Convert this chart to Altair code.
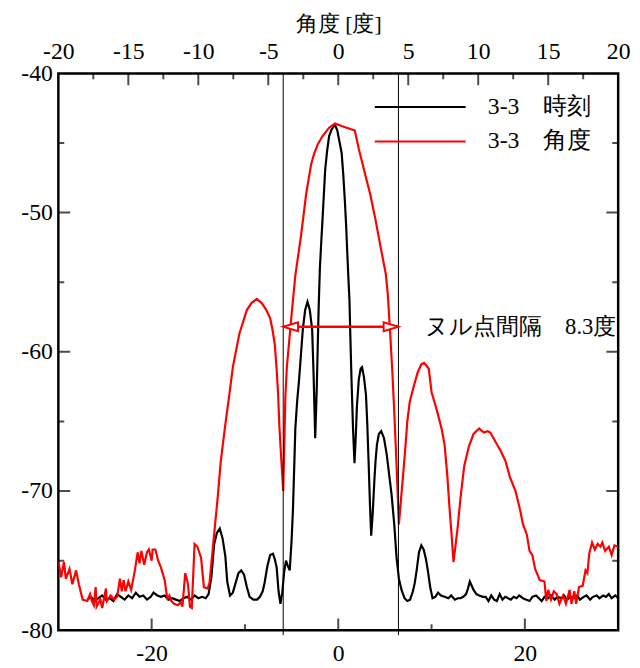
import altair as alt
import pandas as pd

# ---- data ----
time_x = [-26.9, -26.5, -26.1, -25.7, -25.3, -24.9, -24.5, -24.1, -23.7, -23.3, -22.9, -22.5, -22.1, -21.7,
          -21.3, -20.9, -20.5, -20.1, -19.8, -19.4, -19.0, -18.6, -18.2, -17.8, -17.4, -17.0, -16.6, -16.2,
          -15.8, -15.4, -15.0, -14.6, -14.2, -13.9, -13.6, -13.3, -13.0, -12.7, -12.4, -12.1, -11.9, -11.6,
          -11.3, -11.0, -10.7, -10.4, -10.1, -9.8, -9.5, -9.1, -8.7, -8.4, -8.1, -7.9, -7.6, -7.3, -7.0,
          -6.8, -6.6, -6.4, -6.2, -6.0, -5.8, -5.6, -5.4, -5.2, -5.0, -4.86, -4.7, -4.6, -4.4, -4.2, -4.0,
          -3.8, -3.55, -3.3, -3.05, -2.8, -2.65, -2.47, -2.3, -2.2, -2.1, -1.97, -1.83, -1.68, -1.4, -1.2,
          -0.98, -0.7, -0.35, -0.1, 0.1, 0.36, 0.55, 0.71, 0.85, 0.96, 1.08, 1.2, 1.3, 1.42, 1.58, 1.74,
          1.88, 2.0, 2.2, 2.4, 2.55, 2.75, 2.97, 3.1, 3.25, 3.4, 3.53, 3.7, 3.88, 4.0, 4.14, 4.35, 4.6,
          4.9, 5.2, 5.45, 5.72, 6.0, 6.25, 6.5, 6.78, 7.1, 7.4, 7.7, 8.0, 8.2, 8.4, 8.65, 8.9, 9.15, 9.4,
          9.6, 9.85, 10.1, 10.4, 10.7, 11.0, 11.4, 11.8, 12.1, 12.5, 12.8, 13.1, 13.4, 13.7, 13.9, 14.1,
          14.3, 14.5, 14.8, 15.1, 15.5, 15.8, 16.1, 16.4, 16.7, 17.0, 17.3, 17.6, 17.9, 18.2, 18.5, 18.8,
          19.1, 19.4, 19.8, 20.1, 20.5, 20.8, 21.2, 21.5, 21.8, 22.1, 22.5, 22.8, 23.2, 23.5, 23.9, 24.2,
          24.5, 24.9, 25.2, 25.6, 25.9, 26.3, 26.6, 27.0, 27.3, 27.7, 28.0, 28.4, 28.7, 29.0, 29.3, 29.7, 30.0]
time_y = [-77.8, -77.6, -77.9, -77.7, -77.5, -77.8, -77.7, -77.9, -77.4, -77.6, -77.8, -77.5, -77.7, -77.3,
          -77.6, -77.5, -77.8, -77.6, -77.3, -77.5, -77.6, -77.5, -77.8, -77.7, -77.8, -77.9, -77.7, -77.6,
          -77.8, -77.5, -77.7, -77.6, -77.7, -77.4, -76.2, -73.8, -73.0, -72.7, -73.4, -74.7, -76.5, -77.5,
          -77.3, -76.6, -75.9, -75.7, -76.0, -76.9, -77.6, -77.8, -77.8, -77.6, -77.2, -76.6, -75.4, -74.6, -74.5,
          -74.9, -75.5, -77.2, -78.1, -77.3, -75.8, -75.0, -75.4, -75.7, -73.5, -71.4, -67.8, -65.5, -63.5, -62.0, -60.2,
          -58.4, -57.0, -56.4, -57.0, -58.4, -61.5, -66.2, -62.5, -59.6, -56.8, -54.0, -52.2, -50.4, -46.9, -45.6,
          -44.5, -44.0, -43.7, -44.1, -44.8, -45.7, -47.4, -49.2, -51.0, -52.8, -54.6, -56.3, -59.0, -62.0, -65.5, -68.0,
          -66.0, -63.9, -62.0, -61.2, -61.1, -61.8, -63.1, -65.0, -67.9, -71.0, -73.2, -71.5, -69.1, -67.8, -66.7, -65.9, -65.7,
          -66.2, -67.4, -68.8, -70.3, -72.4, -74.8, -76.3, -77.1, -77.7, -77.9, -77.8, -77.2, -76.6, -75.7, -74.4, -73.9, -74.2, -74.9,
          -75.7, -76.9, -77.7, -77.6, -77.3, -77.5, -77.6, -77.7, -77.5, -77.8, -77.7, -77.7, -77.6, -77.4, -77.0, -76.5,
          -76.8, -77.1, -77.4, -77.5, -77.6, -77.6, -77.9, -77.5, -77.8, -77.9, -77.4, -77.8, -77.6, -77.7, -77.8, -77.6,
          -77.7, -77.5, -77.7, -77.8, -77.9, -77.6, -77.5, -77.7, -77.9, -77.6, -77.7, -77.5, -77.8, -77.6, -77.7, -77.5,
          -77.8, -77.6, -77.7, -77.5, -77.8, -77.6, -77.5, -77.8, -77.6, -77.5, -77.7, -77.5, -77.6, -77.4, -77.7, -77.5, -77.7]

angle_x = [-30.0, -29.7, -29.4, -29.2, -28.8, -28.5, -28.1, -27.8, -27.4, -26.9, -26.6, -26.4, -26.2, -26.0,
           -25.9, -25.5, -25.3, -24.9, -24.8, -24.4, -24.0, -23.7, -23.4, -23.2, -23.0, -22.8, -22.5, -22.2,
           -21.8, -21.5, -21.3, -21.1, -20.8, -20.5, -20.3, -20.0, -19.9, -19.6, -19.3, -19.0, -18.6, -18.4,
           -18.3, -18.1, -17.9, -17.6, -17.2, -16.9, -16.7, -16.4, -16.1, -15.9, -15.7, -15.4, -15.1, -14.7,
           -14.4, -14.0, -13.8, -13.5, -13.3, -12.9, -12.6, -12.1, -11.6, -11.3, -10.6, -9.8, -9.3, -8.74,
           -8.2, -7.7, -7.3, -7.05, -6.8, -6.6, -6.45, -6.3, -6.1, -5.9, -5.78, -5.67, -5.5, -5.28, -5.0,
           -4.6, -3.98, -3.45, -2.9, -2.6, -2.2, -1.68, -0.98, -0.35, 0.43, 0.9, 1.31, 1.77, 2.19, 2.9, 3.43,
           3.96, 4.49, 5.09, 5.3, 5.55, 5.8, 6.0, 6.25, 6.5, 6.8, 7.13, 7.4, 7.66, 8.0, 8.5, 8.9, 9.2, 9.7,
           10.0, 10.4, 10.8, 11.1, 11.4, 11.7, 11.9, 12.15, 12.35, 12.55, 12.8, 13.1, 13.5, 14.0, 14.5, 15.1,
           15.6, 16.0, 16.3, 16.8, 17.4, 17.9, 18.4, 19.0, 19.5, 19.8, 20.2, 20.5, 20.8, 21.1, 21.6, 22.1,
           22.3, 22.5, 22.8, 23.1, 23.4, 23.7, 24.1, 24.4, 24.8, 25.0, 25.3, 25.5, 25.8, 26.2, 26.5, 26.7,
           26.9, 27.2, 27.5, 27.8, 28.1, 28.3, 28.6, 29.0, 29.3, 29.6, 30.0]
angle_y = [-75.0, -76.2, -75.1, -76.3, -75.6, -76.7, -75.7, -76.7, -77.8, -77.9, -77.4, -77.9, -78.2, -76.9,
           -78.3, -77.8, -78.4, -77.0, -77.9, -77.5, -77.8, -77.6, -76.3, -77.2, -76.4, -77.2, -76.5, -77.1,
           -75.7, -74.4, -75.2, -74.3, -75.3, -74.4, -74.2, -75.0, -74.2, -74.2, -75.0, -75.5, -76.4, -77.4,
           -77.7, -77.5, -77.9, -78.1, -78.2, -78.0, -78.3, -75.9, -76.7, -78.3, -78.4, -73.8, -74.0, -74.8,
           -76.9, -77.0, -76.6, -74.5, -73.1, -70.3, -67.9, -65.2, -62.7, -61.1, -58.7, -57.0, -56.5, -56.2,
           -56.5, -57.0, -57.6, -58.4, -59.5, -61.3, -63.0, -65.5, -67.8, -70.0, -66.5, -63.2, -61.0, -59.4, -57.3,
           -54.5, -51.6, -48.7, -46.5, -45.8, -45.1, -44.5, -43.9, -43.6, -43.8, -43.9, -44.0, -44.1, -45.4, -47.3, -48.7,
           -50.4, -52.3, -54.4, -55.8, -58.5, -61.5, -64.3, -68.2, -72.4, -70.0, -67.4, -65.0, -63.6, -62.7, -61.5, -60.9, -60.8, -61.2,
           -62.9, -63.8, -64.8, -65.6, -66.7, -69.0, -71.0, -73.2, -75.1, -74.0, -72.6, -70.5, -68.2, -66.8, -65.9, -65.5,
           -65.8, -65.7, -65.8, -66.4, -67.1, -67.8, -69.0, -70.0, -71.4, -72.4, -73.1, -74.3, -74.6, -75.6, -76.4, -76.5,
           -77.9, -77.1, -77.8, -77.2, -77.4, -78.1, -77.5, -78.1, -77.1, -78.1, -77.2, -78.1, -76.9, -76.8, -75.7, -75.9,
           -74.5, -73.7, -74.2, -73.8, -74.0, -73.7, -74.3, -74.0, -74.6, -73.9, -74.0]

series_names = ["3-3\u3000時刻", "3-3\u3000角度"]
series_colors = ["#000000", "#ff0000"]

null_left = -5.9
null_right = 6.45
arrow_level = -58.2
note_text = "ヌル点間隔\u30008.3度"
note_x = 9.3

bottom_labels = [-20, 0, 20]
bottom_major = [-20, 0, 20]
bottom_minor = [-10, 10]
left_labels = [-80, -70, -60, -50, -40]
side_major = [-70, -60, -50]
side_minor = [-75, -65, -55, -45]
top_label_deg = [-20, -15, -10, -5, 0, 5, 10, 15, 20]
top_major_deg = [-15, -10, -5, 0, 5, 10, 15]
top_minor_deg = [-17.5, -12.5, -7.5, -2.5, 2.5, 7.5, 12.5, 17.5]
units_per_degree = 1.5

SERIF = "Liberation Serif"
FS = 24
XDOM = [-30, 30]
YDOM = [-80, -40]
HYPHEN_LABEL = "(datum.value < 0 ? '-' : '') + format(abs(datum.value), 'd')"

xs = alt.Scale(domain=XDOM, nice=False, zero=False)
ys = alt.Scale(domain=YDOM, nice=False, zero=False)

df = pd.concat([
    pd.DataFrame({"x": time_x, "y": time_y, "series": series_names[0]}),
    pd.DataFrame({"x": angle_x, "y": angle_y, "series": series_names[1]}),
])

lines = alt.Chart(df).mark_line(strokeWidth=2.2, clip=True).encode(
    x=alt.X("x:Q", scale=xs, axis=alt.Axis(orient="bottom", values=bottom_labels, ticks=False, domain=False,
            grid=False, labelFont=SERIF, labelFontSize=FS, labelPadding=12, labelFlush=False,
            labelOverlap=False, labelColor="black", title=None, labelExpr=HYPHEN_LABEL)),
    y=alt.Y("y:Q", scale=ys, axis=alt.Axis(orient="left", values=left_labels, ticks=False, domain=False,
            grid=False, labelFont=SERIF, labelFontSize=FS, labelPadding=6, labelFlush=False,
            labelOverlap=False, labelColor="black", title=None, labelExpr=HYPHEN_LABEL)),
    color=alt.Color("series:N", scale=alt.Scale(domain=series_names, range=series_colors),
                    legend=alt.Legend(title=None, orient="none", legendX=319, legendY=23,
                                      symbolType="stroke", symbolSize=8464, symbolStrokeWidth=2.2,
                                      labelFont=SERIF, labelFontSize=FS, labelOffset=21,
                                      labelColor="black", labelLimit=0, clipHeight=22,
                                      rowPadding=11, padding=0)),
    order=alt.Order("x:Q"),
)

vdf = pd.DataFrame({"x": [null_left, null_right]})
vlines = alt.Chart(vdf).mark_rule(color="black", strokeWidth=1, y2Offset=5, clip=False).encode(
    x=alt.X("x:Q", scale=xs, axis=alt.Axis(orient="top", values=[d * units_per_degree for d in top_label_deg],
            labelExpr="(datum.value < 0 ? '-' : '') + format(abs(datum.value) / 1.5, '.0f')",
            ticks=False, domain=False, grid=False,
            labelFont=SERIF, labelFontSize=FS, labelPadding=10, labelFlush=False, labelOverlap=False,
            labelColor="black", title="角度 [度]", titleFont=SERIF, titleFontSize=22,
            titleFontWeight="normal", titleColor="black", titlePadding=4)),
    y=alt.Y(datum=YDOM[1], scale=ys, axis=None),
    y2=alt.Y2(datum=YDOM[0]),
)

adf = pd.DataFrame({"x1": [null_left], "x2": [null_right], "y": [arrow_level]})
arrow = alt.Chart(adf).mark_rule(color="#ff0000", strokeWidth=2.5).encode(
    x=alt.X("x1:Q", scale=xs, axis=None), x2="x2:Q", y=alt.Y("y:Q", scale=ys, axis=None))

hl = pd.DataFrame({"x": [null_left], "y": [arrow_level]})
hr = pd.DataFrame({"x": [null_right], "y": [arrow_level]})
head_l = alt.Chart(hl).mark_point(shape="M -1 0 L 1 -0.6 L 1 0.6 Z", size=225, filled=False,
                                  stroke="#ff0000", strokeWidth=2, fill="white", fillOpacity=1,
                                  xOffset=7.5, opacity=1).encode(
    x=alt.X("x:Q", scale=xs, axis=None), y=alt.Y("y:Q", scale=ys, axis=None))
head_r = alt.Chart(hr).mark_point(shape="M 1 0 L -1 -0.6 L -1 0.6 Z", size=225, filled=False,
                                  stroke="#ff0000", strokeWidth=2, fill="white", fillOpacity=1,
                                  xOffset=-7.5, opacity=1).encode(
    x=alt.X("x:Q", scale=xs, axis=None), y=alt.Y("y:Q", scale=ys, axis=None))

tdf = pd.DataFrame({"x": [note_x], "y": [arrow_level], "t": [note_text]})
note = alt.Chart(tdf).mark_text(align="left", baseline="middle", font=SERIF, fontSize=23,
                                color="black").encode(
    x=alt.X("x:Q", scale=xs, axis=None), y=alt.Y("y:Q", scale=ys, axis=None), text="t:N")

# inward ticks (clipped to the frame)
def xticks(vals, size, ypos):
    d = pd.DataFrame({"v": vals, "len": [size] * len(vals)})
    return alt.Chart(d).mark_tick(orient="vertical", thickness=2, color="black", clip=True).encode(
        x=alt.X("v:Q", scale=xs, axis=None), y=alt.Y(datum=ypos, scale=ys, axis=None),
        size=alt.Size("len:Q", scale=None, legend=None))

def yticks(vals, size, xpos):
    d = pd.DataFrame({"v": vals, "len": [size] * len(vals)})
    return alt.Chart(d).mark_tick(orient="horizontal", thickness=2, color="black", clip=True).encode(
        y=alt.Y("v:Q", scale=ys, axis=None), x=alt.X(datum=xpos, scale=xs, axis=None),
        size=alt.Size("len:Q", scale=None, legend=None))

def topticks(vals, size):
    d = pd.DataFrame({"deg": vals, "len": [size] * len(vals)})
    return alt.Chart(d).transform_calculate(v=f"datum.deg * {units_per_degree}").mark_tick(
        orient="vertical", thickness=2, color="black", clip=True).encode(
        x=alt.X("v:Q", scale=xs, axis=None), y=alt.Y(datum=YDOM[1], scale=ys, axis=None),
        size=alt.Size("len:Q", scale=None, legend=None))

ticks = [
    xticks(bottom_major, 24, YDOM[0]), xticks(bottom_minor, 12, YDOM[0]),
    topticks(top_major_deg, 24), topticks(top_minor_deg, 12),
    yticks(side_major, 24, XDOM[0]), yticks(side_minor, 12, XDOM[0]),
    yticks(side_major, 24, XDOM[1]), yticks(side_minor, 12, XDOM[1]),
]

chart = alt.layer(lines, vlines, arrow, head_l, head_r, note, *ticks).resolve_axis(
    x="independent", y="independent").properties(
    width=567, height=564,
    autosize=alt.AutoSizeParams(type="none"),
    padding={"left": 51, "top": 62, "right": 14, "bottom": 34},
).configure_view(stroke="black", strokeWidth=2.5).configure_axis(grid=False)

chart.save("out.html", embed_options={"renderer": "svg", "actions": False})
